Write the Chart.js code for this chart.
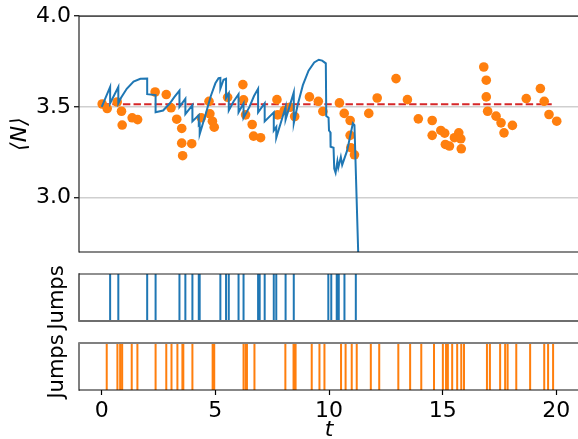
<!DOCTYPE html>
<html>
<head>
<meta charset="utf-8">
<script src="https://cdn.jsdelivr.net/npm/chart.js@4.4.1/dist/chart.umd.min.js"></script>
<style>
body { margin: 0; background: #fff; overflow: hidden; }
#wrap { position: relative; width: 578px; height: 439px; overflow: hidden; }
canvas { position: absolute; left: 0; top: 0; }
</style>
</head>
<body>
<div id="wrap">
<canvas id="mainChart" width="600" height="439"></canvas>
<canvas id="jumpsA" width="600" height="439"></canvas>
<canvas id="jumpsB" width="600" height="439"></canvas>
</div>
<script>
// trajectory <N>(t), jumps are vertical drops
var trajT = [0, 0.37, 0.37, 0.73, 0.73, 0.85, 1.1, 1.4, 1.7, 2.0, 2.0, 2.37, 2.37, 2.7, 3.0, 3.2, 3.42, 3.42, 3.68, 3.68,
    3.99, 3.99, 4.27, 4.27, 4.31, 4.31, 4.55, 4.8, 5.0, 5.14, 5.22, 5.22, 5.36, 5.47, 5.47, 5.59, 5.59, 5.8, 6.02, 6.02,
    6.24, 6.24, 6.5, 6.7, 6.88, 6.88, 7.17, 7.17, 7.57, 7.57, 7.68, 7.68, 8.09, 8.09, 8.45, 8.45, 8.62, 8.85, 9.1, 9.35,
    9.55, 9.7, 9.86, 9.88, 9.98, 10.0, 10.06, 10.07, 10.2, 10.23, 10.29, 10.37, 10.41, 10.52, 10.58, 10.8, 11.05, 11.12, 11.32];
var trajN = [3.50, 3.61, 3.52, 3.61, 3.52, 3.55, 3.60, 3.64, 3.655, 3.656, 3.57, 3.565, 3.47, 3.48, 3.52, 3.555, 3.59, 3.50, 3.545, 3.46,
    3.51, 3.42, 3.455, 3.40, 3.405, 3.35, 3.45, 3.56, 3.63, 3.658, 3.66, 3.60, 3.65, 3.655, 3.55, 3.575, 3.48, 3.53, 3.57, 3.47,
    3.52, 3.44, 3.50, 3.56, 3.60, 3.47, 3.52, 3.42, 3.47, 3.37, 3.39, 3.33, 3.50, 3.43, 3.58, 3.41, 3.51, 3.62, 3.70, 3.745,
    3.76, 3.755, 3.74, 3.45, 3.44, 3.37, 3.36, 3.28, 3.275, 3.16, 3.137, 3.20, 3.165, 3.224, 3.18, 3.26, 3.41, 3.40, 2.55];

// orange points
var obsT = [0.02, 0.24, 0.68, 0.87, 0.90, 1.34, 1.58, 2.35, 2.84, 3.05, 3.30, 3.52, 3.52, 3.56, 3.96, 4.38, 4.72, 4.76, 4.87, 4.95,
    5.54, 6.21, 6.24, 6.33, 6.62, 6.68, 6.99, 7.71, 7.74, 8.03, 8.29, 8.49, 9.14, 9.53, 9.73, 10.46, 10.67, 10.93, 10.93, 10.96,
    11.12, 11.75, 12.12, 12.95, 13.45, 13.93, 14.54, 14.54, 14.92, 15.09, 15.12, 15.30, 15.52, 15.71, 15.80, 15.82,
    16.81, 16.92, 16.92, 16.98, 17.35, 17.57, 17.70, 18.07, 18.68, 19.30, 19.47, 19.68, 20.02];
var obsN = [3.516, 3.491, 3.527, 3.476, 3.40, 3.44, 3.43, 3.582, 3.568, 3.495, 3.432, 3.381, 3.30, 3.231, 3.297, 3.44, 3.531, 3.462, 3.421, 3.388,
    3.553, 3.623, 3.539, 3.456, 3.403, 3.339, 3.33, 3.54, 3.456, 3.48, 3.498, 3.447, 3.555, 3.531, 3.475, 3.522, 3.464, 3.425, 3.343, 3.275,
    3.236, 3.464, 3.549, 3.656, 3.54, 3.434, 3.425, 3.343, 3.37, 3.355, 3.293, 3.284, 3.33, 3.357, 3.324, 3.269,
    3.72, 3.647, 3.555, 3.476, 3.449, 3.412, 3.357, 3.398, 3.546, 3.601, 3.531, 3.458, 3.421];

var meanN = 3.515;
var meanT = [0, 19.8];

var jumpsBlue = [0.37, 0.73, 2.0, 2.37, 3.42, 3.68, 3.99, 4.27, 4.31, 5.22, 5.47, 5.59, 6.02, 6.24, 6.88, 6.95, 7.17,
    7.57, 7.68, 8.09, 8.45, 9.97, 10.1, 10.34, 10.38, 10.43, 10.68, 11.18];
var jumpsOrange = [0.22, 0.69, 0.81, 0.90, 1.32, 1.57, 2.37, 2.84, 3.07, 3.33, 3.55, 3.59, 3.99, 4.88, 4.95, 6.24, 6.34, 6.39,
    6.72, 8.08, 8.44, 8.49, 8.53, 9.24, 9.58, 9.80, 10.53, 10.73, 11.0, 11.22, 11.84, 12.21, 13.05, 13.57, 14.06, 14.62,
    15.01, 15.15, 15.23, 15.42, 15.64, 15.82, 15.94, 16.95, 17.08, 17.53, 17.75, 17.86, 18.24, 18.85, 19.47, 19.64, 19.86];

var tTicks = [0, 5, 10, 15, 20];
var nTicks = [3.0, 3.5, 4.0];

var FONT = 'DejaVu Sans';
var AXIS_W = 79;
var T_MIN = -1, T_MAX = 21;

var framePlugin = {
    id: 'frame',
    afterDatasetsDraw: function (chart, args, opts) {
        var ctx = chart.ctx, a = chart.chartArea;
        ctx.save();
        ['left', 'top', 'bottom'].forEach(function (side) {
            var s = opts[side];
            if (!s) return;
            ctx.strokeStyle = s.color;
            ctx.lineWidth = s.width;
            ctx.beginPath();
            if (side === 'left') { ctx.moveTo(a.left, a.top - s.width / 2); ctx.lineTo(a.left, a.bottom + s.width / 2); }
            if (side === 'top') { ctx.moveTo(a.left, a.top); ctx.lineTo(a.right, a.top); }
            if (side === 'bottom') { ctx.moveTo(a.left, a.bottom); ctx.lineTo(a.right, a.bottom); }
            ctx.stroke();
        });
        ctx.restore();
    }
};

function points(xs, ys) {
    return xs.map(function (x, i) { return { x: x, y: ys[i] }; });
}

function jumpSegments(times) {
    var pts = [];
    times.forEach(function (t) {
        pts.push({ x: t, y: 0 }, { x: t, y: 1 }, { x: t, y: null });
    });
    return pts;
}

function fixWidth(s) { s.width = AXIS_W; }

new Chart(document.getElementById('mainChart'), {
    type: 'scatter',
    data: {
        datasets: [{
            data: points(trajT, trajN),
            showLine: true,
            borderColor: '#1f77b4',
            borderWidth: 2,
            pointRadius: 0,
            tension: 0
        }, {
            data: points(obsT, obsN),
            backgroundColor: '#ff7f0e',
            borderWidth: 0,
            pointRadius: 4.8
        }, {
            data: points(meanT, [meanN, meanN]),
            showLine: true,
            borderColor: '#d62728',
            borderWidth: 2,
            borderDash: [7.4, 3.2],
            pointRadius: 0
        }]
    },
    options: {
        responsive: false,
        animation: false,
        layout: { padding: { left: 0, right: 21, top: 15, bottom: 187 } },
        plugins: {
            legend: { display: false },
            tooltip: { enabled: false },
            frame: {
                top: { color: '#222', width: 1.2 },
                left: { color: '#222', width: 1.2 },
                bottom: { color: '#111', width: 1.2 }
            }
        },
        scales: {
            x: { type: 'linear', min: T_MIN, max: T_MAX, display: false },
            y: {
                min: 2.7, max: 4.0,
                afterBuildTicks: function (s) { s.ticks = nTicks.map(function (v) { return { value: v }; }); },
                afterFit: fixWidth,
                ticks: {
                    callback: function (v) { return v.toFixed(1); },
                    color: '#000', padding: 3,
                    font: { family: FONT, size: 22 }
                },
                grid: { color: '#cfcfcf', lineWidth: 1.5, tickColor: '#000', tickLength: 5, tickWidth: 1.2 },
                border: { display: false },
                title: {
                    display: true, text: '⟨N⟩', color: '#000',
                    font: { family: FONT, size: 22, style: 'italic' },
                    padding: { top: 7, bottom: 0 }
                }
            }
        }
    },
    plugins: [framePlugin]
});

function jumpChart(id, times, color, pad, frame, withAxis) {
    var xScale = { type: 'linear', min: T_MIN, max: T_MAX, display: false };
    if (withAxis) {
        xScale = {
            type: 'linear', min: T_MIN, max: T_MAX,
            afterBuildTicks: function (s) { s.ticks = tTicks.map(function (v) { return { value: v }; }); },
            afterFit: function (s) { s.height = 49; },
            ticks: { color: '#000', padding: 3, maxRotation: 0, font: { family: FONT, size: 22 } },
            grid: { drawOnChartArea: false, drawTicks: true, tickLength: 5, tickColor: '#000', tickWidth: 1.2 },
            border: { display: false },
            title: {
                display: true, text: 't', color: '#000',
                font: { family: FONT, size: 22, style: 'italic', lineHeight: 0.8 },
                padding: { top: 0, bottom: 0 }
            }
        };
    }
    return new Chart(document.getElementById(id), {
        type: 'scatter',
        data: {
            datasets: [{
                data: jumpSegments(times),
                showLine: true,
                spanGaps: false,
                borderColor: color,
                borderWidth: 2,
                pointRadius: 0
            }]
        },
        options: {
            responsive: false,
            animation: false,
            layout: { padding: pad },
            plugins: { legend: { display: false }, tooltip: { enabled: false }, frame: frame },
            scales: {
                x: xScale,
                y: {
                    min: 0, max: 1,
                    afterFit: fixWidth,
                    ticks: { display: false },
                    grid: { display: false },
                    border: { display: false },
                    title: {
                        display: true, text: 'Jumps', color: '#000',
                        font: { family: FONT, size: 21 },
                        padding: { top: 45, bottom: 0 }
                    }
                }
            }
        },
        plugins: [framePlugin]
    });
}

jumpChart('jumpsA', jumpsBlue, '#1f77b4',
    { left: 0, right: 21, top: 274, bottom: 118 },
    { top: { color: '#222', width: 1.2 }, left: { color: '#444', width: 1.5 }, bottom: { color: '#6e6e6e', width: 2 } },
    false);

jumpChart('jumpsB', jumpsOrange, '#ff7f0e',
    { left: 0, right: 21, top: 343, bottom: 0 },
    { top: { color: '#808080', width: 2 }, left: { color: '#555', width: 1.5 }, bottom: { color: '#111', width: 1.2 } },
    true);
</script>
</body>
</html>
